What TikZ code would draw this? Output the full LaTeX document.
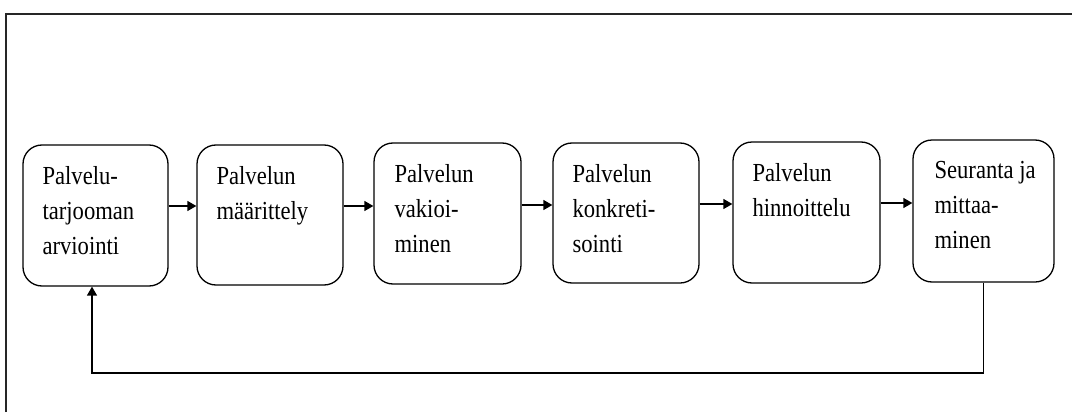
\documentclass[tikz,border=0pt]{standalone}
\usepackage{fontspec}
\setmainfont{Liberation Serif}[FakeStretch=0.87]
\usetikzlibrary{arrows.meta}
\begin{document}
\begin{tikzpicture}[x=1pt,y=-1pt,
  stepbox/.style={draw=black,line width=1.3pt,rounded corners=19pt,inner sep=0pt},
  lbl/.style={anchor=north west,inner sep=0pt,align=left,
    font=\fontsize{26}{35}\selectfont},
  arr/.style={line width=1.4pt,-{Triangle[length=9pt,width=10pt]}},
  frame/.style={line width=1.5pt,draw=black!85}]
\useasboundingbox (0,0) rectangle (1078,412);
% outer frame (top and left edges only)
\draw[frame] (6,412) -- (6,14) -- (1072,14);
% boxes
\node[stepbox,minimum width=145pt,minimum height=141pt] (b1) at (95.5,215.5) {};
\node[stepbox,minimum width=146pt,minimum height=140pt] (b2) at (270,215) {};
\node[stepbox,minimum width=147pt,minimum height=141pt] (b3) at (447.5,213.5) {};
\node[stepbox,minimum width=146pt,minimum height=140pt] (b4) at (626,213) {};
\node[stepbox,minimum width=147pt,minimum height=141pt] (b5) at (806.5,212.5) {};
\node[stepbox,minimum width=141pt,minimum height=142pt] (b6) at (983.5,211) {};
% labels
\node[lbl] (t1) at ([xshift=20pt,yshift=-22pt]b1.north west) {Palvelu-\\tarjooman\\arviointi};
\node[lbl] (t2) at ([xshift=20pt,yshift=-22pt]b2.north west) {Palvelun\\määrittely};
\node[lbl] (t3) at ([xshift=21pt,yshift=-22pt]b3.north west) {Palvelun\\vakioi-\\minen};
\node[lbl] (t4) at ([xshift=20pt,yshift=-22pt]b4.north west) {Palvelun\\konkreti-\\sointi};
\node[lbl] (t5) at ([xshift=20pt,yshift=-22pt]b5.north west) {Palvelun\\hinnoittelu};
\node[lbl] (t6) at ([xshift=22pt,yshift=-22pt]b6.north west) {Seuranta ja\\mittaa-\\minen};
% forward arrows
\draw[arr] ([yshift=9.5pt]b1.east) -- ([yshift=9.5pt]b1.east -| b2.west);
\draw[arr] ([yshift=9pt]b2.east) -- ([yshift=9pt]b2.east -| b3.west);
\draw[arr] ([yshift=8.5pt]b3.east) -- ([yshift=8.5pt]b3.east -| b4.west);
\draw[arr] ([yshift=9pt]b4.east) -- ([yshift=9pt]b4.east -| b5.west);
\draw[arr] ([yshift=9.5pt]b5.east) -- ([yshift=9.5pt]b5.east -| b6.west);
% feedback loop
\coordinate (fb) at (92,373);
\draw[arr] (b6.south) -- (b6.south |- fb) -- (fb) -- (fb |- b1.south);
\end{tikzpicture}
\end{document}
